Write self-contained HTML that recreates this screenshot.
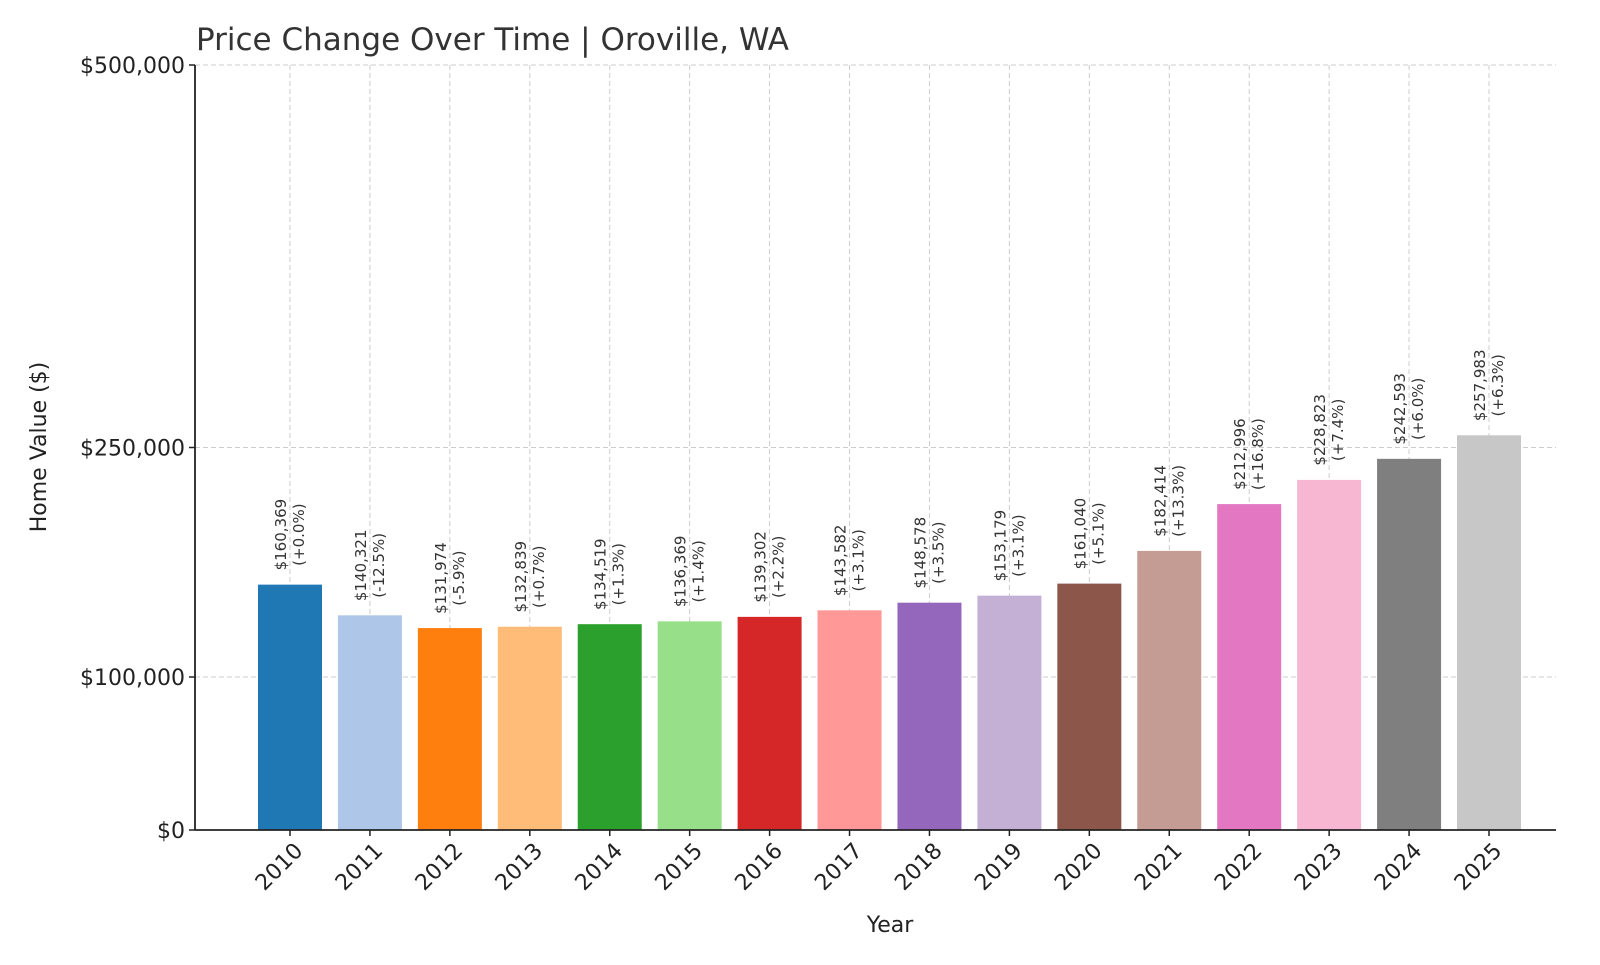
<!DOCTYPE html>
<html><head><meta charset="utf-8"><style>
html,body{margin:0;padding:0;background:#fff;}
svg text{font-family:"DejaVu Sans","Liberation Sans",sans-serif;}
</style></head><body>
<svg id="chart" width="1600" height="960" viewBox="0 0 1600 960" xmlns="http://www.w3.org/2000/svg">
<text x="196" y="50" font-size="31" fill="#333">Price Change Over Time | Oroville, WA</text>
<g id="grid"></g><g id="bars"></g><g id="labels"></g><g id="axes"></g>
<text x="890" y="932" font-size="22" fill="#222" text-anchor="middle">Year</text>
<text transform="translate(46,447) rotate(-90)" font-size="22" fill="#222" text-anchor="middle">Home Value ($)</text>
</svg>
<script>
const years = ["2010","2011","2012","2013","2014","2015","2016","2017","2018","2019","2020","2021","2022","2023","2024","2025"];
const values = [160369,140321,131974,132839,134519,136369,139302,143582,148578,153179,161040,182414,212996,228823,242593,257983];
const changes = ["+0.0%","-12.5%","-5.9%","+0.7%","+1.3%","+1.4%","+2.2%","+3.1%","+3.5%","+3.1%","+5.1%","+13.3%","+16.8%","+7.4%","+6.0%","+6.3%"];
const yTicks = [0,100000,250000,500000];
const yTickLabels = ["$0","$100,000","$250,000","$500,000"];
const colors = ["#1f77b4","#aec7e8","#ff7f0e","#ffbb78","#2ca02c","#98df8a","#d62728","#ff9896","#9467bd","#c5b0d5","#8c564b","#c49c94","#e377c2","#f7b6d2","#7f7f7f","#c7c7c7"];
const NS="http://www.w3.org/2000/svg";
const X0=195,X1=1556,Y0=830,YT=65,YMAX=500000;
const c0=290,c1=1489,bw=64;
function xPos(i){return c0+(c1-c0)*i/(years.length-1);}
function yPos(v){return Y0-(Y0-YT)*v/YMAX;}
function mk(t,a,p){const e=document.createElementNS(NS,t);for(const k in a)e.setAttribute(k,a[k]);p.appendChild(e);return e;}
const grid=document.getElementById('grid'),bars=document.getElementById('bars'),labels=document.getElementById('labels'),axes=document.getElementById('axes');
yTicks.forEach((v,i)=>{
  const y=yPos(v);
  if(v>0){const g=mk('line',{x1:X0,x2:X1,y1:y,y2:y,stroke:'#ccc','stroke-dasharray':'5,3','stroke-width':1},grid);
  
  }
  const t=mk('line',{x1:X0-6,x2:X0,y1:y,y2:y,stroke:'#222','stroke-width':1.5},axes);
  
  
  const l=mk('text',{x:X0-10,y:y+8,'font-size':22,fill:'#222','text-anchor':'end'},axes);
  
  
  l.textContent=yTickLabels[i];
});
years.forEach((yr,i)=>{
  const cx=xPos(i);
  const g=mk('line',{x1:cx,x2:cx,y1:YT,y2:Y0,stroke:'#ccc','stroke-dasharray':'5,3','stroke-width':1},grid);
  
  
  const top=yPos(values[i]);
  const r=mk('rect',{x:cx-bw/2,y:top,width:bw,height:Y0-top,fill:colors[i]},bars);
  
  
  const t=mk('text',{transform:`translate(${cx},${top-50}) rotate(-90)`,'font-size':15,fill:'#333','text-anchor':'middle'},labels);
  
  
  const s1=mk('tspan',{x:0,y:-4},t);s1.textContent='$'+values[i].toLocaleString('en-US');
  const s2=mk('tspan',{x:0,y:14},t);s2.textContent='('+changes[i]+')';
  const tk=mk('line',{x1:cx,x2:cx,y1:Y0,y2:Y0+6,stroke:'#222','stroke-width':1.5},axes);
  
  
  const xl=mk('text',{transform:`translate(${cx+14},${Y0+22}) rotate(-45)`,'font-size':22,fill:'#222','text-anchor':'end'},axes);
  
  
  xl.textContent=yr;
});
const ya=mk('line',{x1:X0,x2:X0,y1:YT,y2:Y0,stroke:'#222','stroke-width':1.8},axes);


const xa=mk('line',{x1:X0,x2:X1,y1:Y0,y2:Y0,stroke:'#222','stroke-width':1.8},axes);


</script>
</body></html>
